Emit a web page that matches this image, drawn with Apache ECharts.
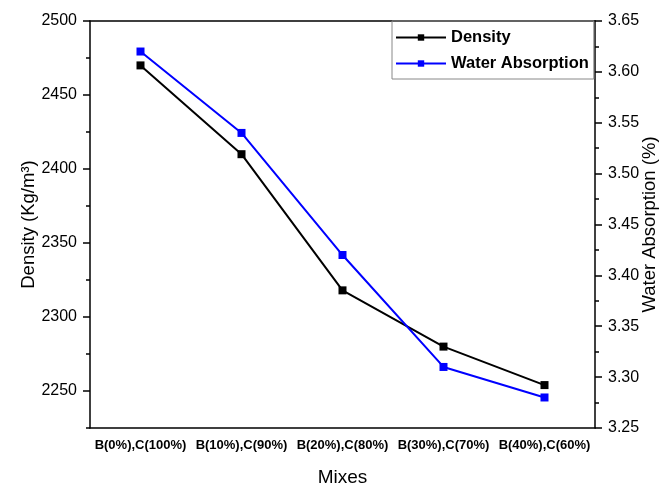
<!DOCTYPE html>
<html>
<head>
<meta charset="utf-8">
<script src="https://cdn.jsdelivr.net/npm/echarts@6/dist/echarts.min.js"></script>
<style>html,body{margin:0;padding:0;background:#fff;overflow:hidden}#c{width:667px;height:485px}</style>
</head>
<body>
<div id="c"></div>
<script>
var categories = ['B(0%),C(100%)', 'B(10%),C(90%)', 'B(20%),C(80%)', 'B(30%),C(70%)', 'B(40%),C(60%)'];
var density = [2470, 2410, 2318, 2280, 2254];
var waterAbsorption = [3.62, 3.54, 3.42, 3.31, 3.28];
var densityTicks = [2250, 2300, 2350, 2400, 2450, 2500];

var FONT = 'Liberation Sans, Arial, sans-serif';
var chart = echarts.init(document.getElementById('c'), null, {renderer: 'canvas', width: 667, height: 485});
var lineStyle = {color: '#000', width: 1.5};
var option = {
  backgroundColor: '#fff',
  animation: false,
  textStyle: {fontFamily: FONT},
  grid: {left: 90, right: 72, top: 21, bottom: 57, containLabel: false, outerBoundsMode: 'none'},
  legend: {
    orient: 'vertical', left: 392, top: 21,
    itemWidth: 50, itemHeight: 8, itemGap: 9,
    padding: [8, 5, 7, 3],
    borderColor: '#888', borderWidth: 1,
    textStyle: {fontFamily: FONT, fontWeight: 'bold', fontSize: 16.5, color: '#000'},
    data: ['Density', 'Water Absorption']
  },
  xAxis: [
    {type: 'category', data: categories, position: 'bottom', boundaryGap: true,
     name: 'Mixes', nameLocation: 'middle', nameGap: 40, nameMoveOverlap: false,
     nameTextStyle: {fontFamily: FONT, fontSize: 19, color: '#000'},
     axisLine: {lineStyle: lineStyle},
     axisTick: {alignWithLabel: true, length: 7, lineStyle: lineStyle},
     axisLabel: {fontFamily: FONT, fontWeight: 'bold', fontSize: 13, color: '#000', margin: 11, interval: 0},
     splitLine: {show: false}},
    {type: 'category', data: categories, position: 'bottom', boundaryGap: true,
     axisLine: {show: false},
     axisTick: {alignWithLabel: false, length: 4, lineStyle: lineStyle, interval: 0},
     axisLabel: {show: false}, splitLine: {show: false}},
    {type: 'category', data: categories, position: 'top', boundaryGap: true,
     axisLine: {lineStyle: lineStyle},
     axisTick: {alignWithLabel: true, inside: true, length: 7, lineStyle: lineStyle},
     axisLabel: {show: false}, splitLine: {show: false}},
    {type: 'category', data: categories, position: 'top', boundaryGap: true,
     axisLine: {show: false},
     axisTick: {alignWithLabel: false, inside: true, length: 4, lineStyle: lineStyle, interval: 0},
     axisLabel: {show: false}, splitLine: {show: false}}
  ],
  yAxis: [
    {type: 'value', position: 'left', min: 2225, max: 2500,
     name: 'Density (Kg/m³)', nameLocation: 'middle', nameGap: 52, nameRotate: 90, nameMoveOverlap: false,
     nameTextStyle: {fontFamily: FONT, fontSize: 18.5, color: '#000'},
     axisLine: {show: true, lineStyle: lineStyle},
     axisTick: {show: true, length: 7, lineStyle: lineStyle, customValues: densityTicks},
     axisLabel: {fontFamily: FONT, fontSize: 16, color: '#000', margin: 13, customValues: densityTicks,
                 formatter: function (v) { return String(v); }},
     splitLine: {show: false}},
    {type: 'value', position: 'left', min: 2225, max: 2500, interval: 25,
     axisLine: {show: false},
     axisTick: {show: true, length: 4, lineStyle: lineStyle},
     axisLabel: {show: false}, splitLine: {show: false}},
    {type: 'value', position: 'right', min: 3.25, max: 3.65, interval: 0.05,
     name: 'Water Absorption (%)', nameLocation: 'middle', nameGap: 45, nameRotate: 90, nameMoveOverlap: false,
     nameTextStyle: {fontFamily: FONT, fontSize: 18.5, color: '#000'},
     axisLine: {show: true, lineStyle: lineStyle},
     axisTick: {show: true, length: 7, lineStyle: lineStyle},
     minorTick: {show: true, splitNumber: 2, length: 4, lineStyle: lineStyle},
     axisLabel: {fontFamily: FONT, fontSize: 16, color: '#000', margin: 13,
                 formatter: function (v) { return v.toFixed(2); }},
     splitLine: {show: false}, minorSplitLine: {show: false}}
  ],
  series: [
    {name: 'Density', type: 'line', xAxisIndex: 0, yAxisIndex: 0, data: density,
     symbol: 'rect', symbolSize: 8, color: '#000',
     lineStyle: {color: '#000', width: 2}, itemStyle: {color: '#000'}},
    {name: 'Water Absorption', type: 'line', xAxisIndex: 0, yAxisIndex: 2, data: waterAbsorption,
     symbol: 'rect', symbolSize: 8, color: '#0000ff',
     lineStyle: {color: '#0000ff', width: 2}, itemStyle: {color: '#0000ff'}}
  ]
};
chart.setOption(option);
</script>
</body>
</html>
